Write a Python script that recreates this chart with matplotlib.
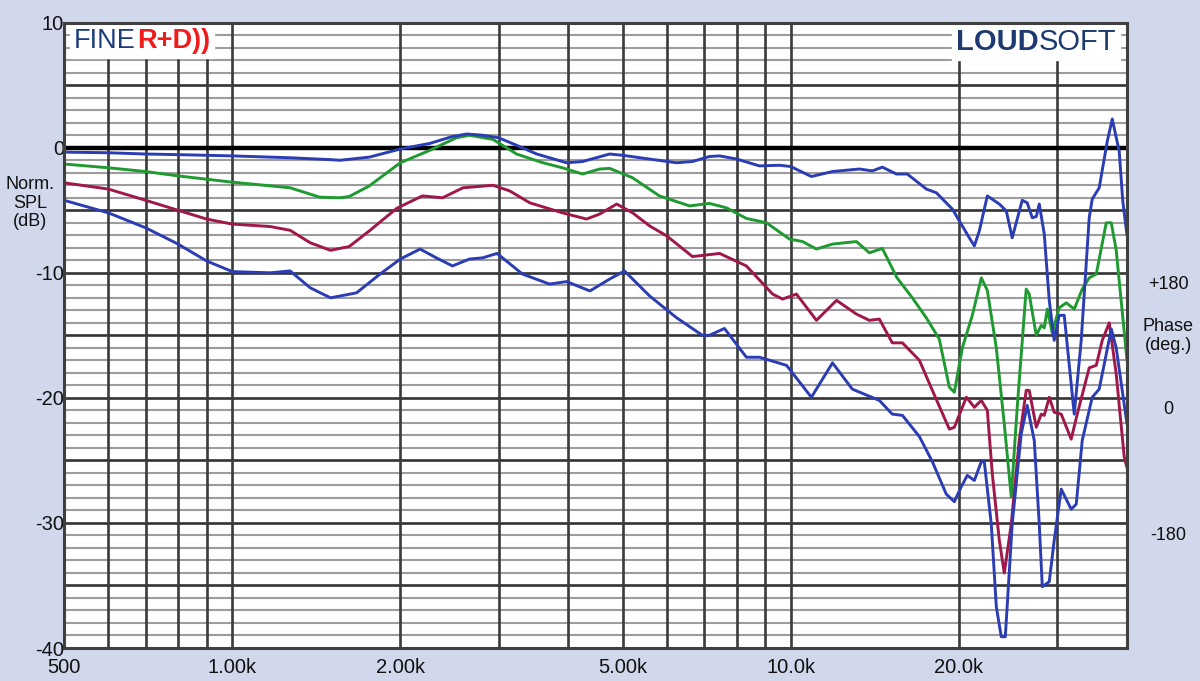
import matplotlib
matplotlib.use("Agg")
import matplotlib.pyplot as plt
from matplotlib.offsetbox import TextArea, HPacker, AnchoredOffsetbox

plt.rcParams['font.family'] = ['Liberation Sans', 'DejaVu Sans']

# ---------------- data ----------------
onaxis_f = [500, 600, 700, 800, 1000, 1270, 1500, 1560, 1760, 2000, 2260, 2480, 2630, 2810,
            3000, 3230, 3510, 3970, 4240, 4740, 5000, 5580, 6250, 6670, 7150, 7460, 8000,
            8790, 9550, 10000, 10890, 11880, 12900, 13270, 14000, 14590, 15460, 16170,
            17490, 18230, 19470, 20880, 21320, 21760, 22490, 23630, 24320, 24920, 25970,
            26510, 27070, 27520, 27860, 28440, 29030, 29630, 30250, 30880, 32180, 33120,
            34230, 34660, 35670, 36870, 37640, 38740, 39300, 40000]
onaxis_db = [-0.35, -0.4, -0.5, -0.55, -0.65, -0.8, -0.95, -1.0, -0.75, -0.1, 0.35, 0.9, 1.1, 1.0,
             0.8, 0.2, -0.5, -1.2, -1.1, -0.5, -0.6, -0.9, -1.2, -1.1, -0.7, -0.65, -0.9,
             -1.45, -1.4, -1.5, -2.3, -1.9, -1.75, -1.7, -1.85, -1.55, -2.1, -2.1,
             -3.3, -3.6, -4.9, -7.2, -7.85, -6.65, -3.85, -4.5, -5.05, -7.2, -4.2,
             -4.4, -5.6, -5.5, -4.5, -6.9, -12.2, -15.4, -13.4, -13.4, -21.3, -15.4,
             -5.6, -4.1, -3.2, 0.5, 2.3, -0.3, -4.2, -7.0]

green_f = [500, 600, 700, 800, 1000, 1270, 1435, 1560, 1620, 1760, 2000, 2260, 2520, 2660,
           2930, 3230, 3600, 3900, 4240, 4550, 4740, 5210, 5820, 6590, 7150, 7670, 8330,
           9050, 9950, 10500, 11120, 11880, 13110, 13830, 14590, 15500, 16510, 17490,
           18450, 19230, 19630, 20290, 21140, 21940, 22490, 23340, 24120, 24820, 25440,
           26400, 26730, 27520, 28090, 28440, 28800, 29390, 30250, 31140, 32180, 33260,
           34230, 35240, 36720, 37490, 38260, 40000]
green_db = [-1.3, -1.6, -1.9, -2.25, -2.75, -3.2, -3.95, -4.0, -3.9, -3.05, -1.2, -0.2, 0.8, 1.0,
            0.67, -0.5, -1.2, -1.6, -2.1, -1.7, -1.65, -2.4, -3.85, -4.65, -4.45, -4.8, -5.65,
            -6.0, -7.3, -7.5, -8.1, -7.7, -7.5, -8.4, -8.05, -10.4, -12.0, -13.6,
            -15.3, -19.15, -19.55, -16.0, -13.4, -10.4, -11.4, -16.0, -22.1, -27.9, -20.75,
            -11.3, -11.7, -15.0, -14.2, -14.4, -12.9, -14.8, -12.8, -12.4, -12.9, -11.3,
            -10.4, -10.1, -6.0, -6.0, -8.2, -17.0]

red_f = [500, 600, 700, 800, 900, 1000, 1170, 1270, 1380, 1500, 1620, 1760, 1970, 2190, 2380,
         2590, 2930, 3140, 3410, 3900, 4310, 4550, 4880, 5210, 5590, 6000, 6670, 7460, 8330,
         9280, 9670, 10240, 11120, 12080, 13110, 13830, 14410, 15200, 15850, 17000, 17930,
         19230, 19630, 20630, 21320, 21940, 22490, 22960, 23630, 24120, 24820, 25650, 26400,
         26730, 27520, 28090, 28440, 29030, 29630, 30500, 31780, 32580, 34230, 35240, 36120,
         37180, 38260, 39540, 40000]
red_db = [-2.8, -3.3, -4.2, -5.0, -5.7, -6.1, -6.3, -6.6, -7.6, -8.2, -7.9, -6.65, -4.85, -3.85, -4.0,
          -3.2, -3.0, -3.45, -4.4, -5.2, -5.7, -5.3, -4.5, -5.2, -6.25, -7.05, -8.7, -8.45, -9.45,
          -11.7, -12.1, -11.7, -13.8, -12.2, -13.3, -13.8, -13.7, -15.6, -15.6, -17.0, -19.4,
          -22.5, -22.35, -19.95, -20.75, -20.2, -21.0, -26.1, -31.4, -34.0, -30.1, -23.4, -19.4,
          -19.4, -22.35, -21.3, -21.4, -19.95, -21.15, -21.3, -23.3, -21.3, -17.6, -17.4, -15.4,
          -14.0, -18.1, -24.7, -25.6]

blue2_f = [500, 600, 700, 800, 900, 1000, 1170, 1270, 1380, 1500, 1670, 1840, 2000, 2170, 2320,
           2480, 2660, 2810, 2980, 3310, 3700, 3970, 4370, 4740, 5040, 5590, 6250, 6950, 7150,
           7610, 8330, 8790, 9830, 10890, 11880, 12890, 14410, 15200, 15850, 17000, 17930,
           18990, 19630, 20200, 20710, 21320, 21940, 22210, 22860, 23340, 23820, 24220, 24920,
           25860, 26510, 27290, 27860, 28210, 29030, 29630, 30500, 31780, 32450, 33260, 34660,
           35670, 36720, 37490, 38260, 40000]
blue2_db = [-4.2, -5.2, -6.4, -7.7, -9.05, -9.9, -10.0, -9.85, -11.2, -12.0, -11.6, -10.1, -8.9, -8.1, -8.8,
            -9.45, -8.9, -8.8, -8.45, -10.1, -10.9, -10.7, -11.45, -10.5, -9.85, -11.85, -13.6, -15.0, -15.0,
            -14.45, -16.75, -16.75, -17.4, -19.95, -17.2, -19.3, -20.2, -21.3, -21.4, -23.1, -25.1,
            -27.7, -28.3, -27.1, -26.2, -26.6, -25.1, -25.1, -30.1, -36.7, -39.1, -39.1, -30.1,
            -22.9, -20.6, -23.4, -30.1, -35.1, -34.7, -31.4, -27.3, -28.9, -28.5, -23.4, -19.95,
            -19.3, -16.5, -14.5, -16.0, -22.1]

x_ticks = [500, 1000, 2000, 5000, 10000, 20000]
x_ticklabels = ['500', '1.00k', '2.00k', '5.00k', '10.0k', '20.0k']
y_ticks = [10, 0, -10, -20, -30, -40]
phase_labels = ['+180', '0', '-180']
phase_label_db = [-11, -21, -31]
vgrid = [600, 700, 800, 900, 1000, 2000, 3000, 4000, 5000, 6000, 7000, 8000, 9000,
         10000, 20000, 30000]

# ---------------- figure ----------------
BG = '#d2d8eb'
fig = plt.figure(figsize=(12, 6.81), dpi=100, facecolor=BG)
ax = fig.add_axes([64 / 1200, 1 - 648 / 681, (1127 - 64) / 1200, (648 - 22.7) / 681])
ax.set_facecolor('white')
ax.set_xscale('log')
ax.set_xlim(500, 40000)
ax.set_ylim(-40, 10)

# horizontal grid
for d in range(-39, 10):
    if d == 0:
        ax.axhline(d, color='black', lw=3.2, zorder=2)
    elif d % 5 == 0:
        ax.axhline(d, color='#333333', lw=1.9, zorder=1.5)
    else:
        ax.axhline(d, color='#9c9c9c', lw=1.5, zorder=1)
for f in vgrid:
    ax.axvline(f, color='#3a3a3a', lw=1.9, zorder=1.6)

lw = 2.1
kw = dict(lw=lw, solid_joinstyle='round', solid_capstyle='round')
ax.plot(onaxis_f, onaxis_db, color='#2b3db4', zorder=6, **kw)
ax.plot(green_f, green_db, color='#1f9a30', zorder=5, **kw)
ax.plot(red_f, red_db, color='#a0174a', zorder=5, **kw)
ax.plot(blue2_f, blue2_db, color='#2b3db4', zorder=5, **kw)

for s in ax.spines.values():
    s.set_color('#404040')
    s.set_linewidth(2.2)
    s.set_zorder(10)

ax.set_xticks(x_ticks)
ax.set_xticklabels(x_ticklabels)
ax.xaxis.set_minor_locator(matplotlib.ticker.NullLocator())
ax.set_yticks(y_ticks)
ax.set_yticklabels([str(v) for v in y_ticks])
ax.tick_params(axis='both', length=0, labelsize=14.5, colors='#111111')
ax.tick_params(axis='x', pad=7)
ax.tick_params(axis='y', pad=0)

# axis titles
fig.text(30 / 1200, 1 - 203 / 681, 'Norm.\nSPL\n(dB)', ha='center', va='center',
         fontsize=13, color='#111111', linespacing=1.1)
fig.text(1168 / 1200, 1 - 336 / 681, 'Phase\n(deg.)', ha='center', va='center',
         fontsize=13, color='#111111', linespacing=1.1)
def db2fig(d):
    return 1 - (146.7 - 12.53 * d) / 681
for lab, d in zip(phase_labels, phase_label_db):
    fig.text(1168 / 1200, db2fig(d), lab, ha='center', va='center', fontsize=13, color='#111111')

# logos
t1 = TextArea('FINE', textprops=dict(color='#1b3c7e', fontsize=19.5))
t2 = TextArea('R+D))', textprops=dict(color='#f01c1c', fontsize=19.5, fontweight='bold'))
box1 = HPacker(children=[t1, t2], pad=0, sep=1, align='baseline')
ab1 = AnchoredOffsetbox(loc='upper left', child=box1, pad=0.3, borderpad=0.1, frameon=True,
                        bbox_to_anchor=(0.004, 1), bbox_transform=ax.transAxes)
ab1.patch.set_facecolor('white')
ab1.patch.set_edgecolor('white')
ab1.set_zorder(8)
ax.add_artist(ab1)

t3 = TextArea('LOUD', textprops=dict(color='#1c3a70', fontsize=21, fontweight='bold'))
t4 = TextArea('SOFT', textprops=dict(color='#1c3a70', fontsize=21))
box2 = HPacker(children=[t3, t4], pad=0, sep=0, align='baseline')
ab2 = AnchoredOffsetbox(loc='upper right', child=box2, pad=0.3, borderpad=0.1, frameon=True,
                        bbox_to_anchor=(0.995, 1), bbox_transform=ax.transAxes)
ab2.patch.set_facecolor('white')
ab2.patch.set_edgecolor('white')
ab2.set_zorder(8)
ax.add_artist(ab2)

fig.savefig('out.png', dpi=100, facecolor=BG)
